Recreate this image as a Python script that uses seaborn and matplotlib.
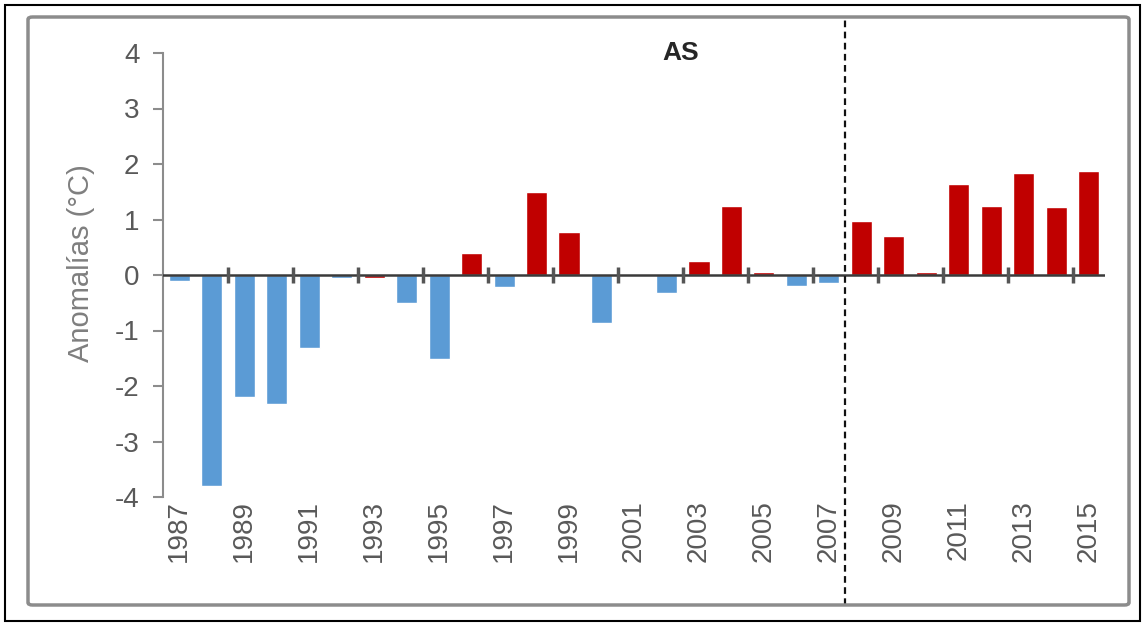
import numpy as np
import pandas as pd
import matplotlib.pyplot as plt
import seaborn as sns
from matplotlib.patches import Rectangle, FancyBboxPatch

# ── data ──
anios = list(range(1987, 2016))
anomalias = [-0.10, -3.81, -2.19, -2.33, -1.31, -0.05, -0.06, -0.51, -1.52,
             0.40, -0.22, 1.50, 0.77, -0.87, 0.00, -0.32, 0.26, 1.25, 0.06,
             -0.19, -0.14, 0.98, 0.70, 0.06, 1.64, 1.24, 1.84, 1.23, 1.87]
tipo = ["cálido" if v >= 0 else "frío" for v in anomalias]
tipo[anios.index(1993)] = "cálido"   # drawn red in the source, sits right on zero
anio_corte = 2008
titulo = "AS"
etiqueta_y = "Anomalías (°C)"

colores = {"frío": "#5B9BD5", "cálido": "#C00000"}

df = pd.DataFrame({"anio": [str(a) for a in anios], "anomalia": anomalias, "tipo": tipo})

sns.set_style("white")
plt.rcParams["font.family"] = ["Liberation Sans", "DejaVu Sans"]
plt.rcParams["axes.unicode_minus"] = False

W, H = 1146, 625
fig = plt.figure(figsize=(W / 100, H / 100), dpi=100)
ax = fig.add_axes([163 / W, 1 - 497 / H, (1105 - 163) / W, (497 - 53) / H])

sns.barplot(data=df, x="anio", y="anomalia", hue="tipo", palette=colores,
            dodge=False, width=0.65, legend=False, saturation=1, ax=ax)

n = len(anios)
ax.set_xlim(-0.5, n - 0.5)
ax.set_ylim(-4, 4)
ax.set_yticks(range(-4, 5))

# zero line + tick marks between categories (Excel style)
ax.axhline(0, color="#3a3a3a", lw=1.8, zorder=3)
bordes = np.arange(1.5, n - 1, 2)
ax.vlines(bordes, -0.14, 0.14, color="#555555", lw=2.5, zorder=4)

ax.set_xticks(range(0, n, 2))
ax.set_xticklabels([str(a) for a in anios[::2]], rotation=90)
ax.tick_params(axis="x", length=0, pad=2, labelsize=20, labelcolor="#595959")
ax.tick_params(axis="y", left=True, length=7, width=1.5, color="#8c8c8c",
               pad=10, labelsize=20, labelcolor="#595959")

for s in ("top", "right", "bottom"):
    ax.spines[s].set_visible(False)
ax.spines["left"].set_color("#8c8c8c")
ax.spines["left"].set_linewidth(1.5)

ax.set_xlabel("")
ax.set_ylabel(etiqueta_y, fontsize=21, color="#7f7f7f")
ax.yaxis.set_label_coords(-0.072, 0.527)

ax.text(0.549, 1.0, titulo, transform=ax.transAxes, ha="center", va="center",
        fontsize=19, fontweight="bold", color="#262626")

corte = anios.index(anio_corte) - 0.5
ax.axvline(corte, ymin=-0.243, ymax=1.081, color="#111111", lw=1.6,
           ls=(0, (3, 2)), clip_on=False, zorder=5)

# frames
fig.patches.append(FancyBboxPatch((28 / W, 1 - 605 / H), (1129 - 28) / W, (605 - 17) / H,
                                  boxstyle="round,pad=0,rounding_size=0.004",
                                  transform=fig.transFigure, fill=False,
                                  ec="#8c8c8c", lw=2.5))
fig.patches.append(Rectangle((5 / W, 1 - 621 / H), (1140 - 5) / W, (621 - 5) / H,
                             transform=fig.transFigure, fill=False, ec="black", lw=1.5))

fig.savefig("out.png", dpi=100)
